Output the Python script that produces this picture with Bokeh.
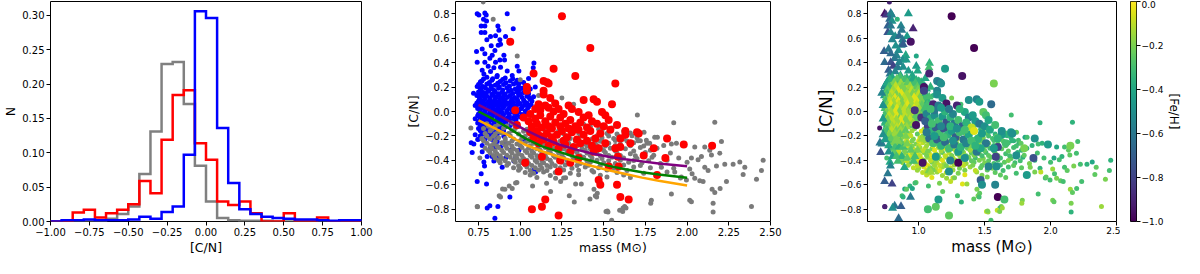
import numpy as np
from bokeh.plotting import figure
from bokeh.layouts import row
from bokeh.models import ColumnDataSource, CustomJSTickFormatter, FixedTicker, LinearColorMapper
from bokeh.palettes import Viridis256
from bokeh.transform import linear_cmap
from bokeh.embed import file_html
from bokeh.resources import INLINE

# ---------------- data ----------------
cn_bin_edges = np.linspace(-1.0, 1.0, 29)
hist_gray = [0, 0, 0, 0, 0.001, 0.004, 0.011, 0.022, 0.069, 0.131, 0.229, 0.232, 0.171, 0.081,
             0.029, 0.005, 0.002, 0.001, 0.001, 0.001, 0, 0, 0, 0, 0, 0, 0, 0]
hist_red = [0, 0, 0.013, 0.017, 0.006, 0.012, 0.017, 0.025, 0.059, 0.041, 0.119, 0.184, 0.191, 0.114,
            0.090, 0.029, 0.024, 0.029, 0.012, 0, 0, 0.012, 0, 0, 0.006, 0, 0, 0]
hist_blue = [0, 0.002, 0.002, 0.003, 0.002, 0.002, 0.002, 0.003, 0.007, 0.004, 0.014, 0.022, 0.097, 0.306,
             0.296, 0.136, 0.056, 0.018, 0.011, 0.007, 0.005, 0.004, 0.003, 0.003, 0.002, 0.001, 0.002, 0.002]

track_mass = [0.75, 0.83, 0.93, 1.03, 1.13, 1.23, 1.33, 1.43, 1.53, 1.63, 1.73, 1.83, 2.00]
track_purple = [0.055, 0.0, -0.077, -0.150, -0.215, -0.268, -0.310, -0.343, -0.370, -0.390, -0.408, -0.425, -0.447]
track_green = [0.0, -0.056, -0.135, -0.220, -0.285, -0.328, -0.372, -0.405, -0.445, -0.472, -0.497, -0.515, -0.542]
track_orange = [-0.072, -0.125, -0.195, -0.272, -0.325, -0.370, -0.408, -0.446, -0.480, -0.511, -0.541, -0.566, -0.606]

# (mass, [C/N], [Fe/H])
blue_stars = [
    (0.742, 0.800, -0.95), (0.752, 0.790, -0.85), (0.788, 0.805, -0.60), (0.796, 0.790, -0.55), (0.922, 0.800, -0.45),
    (0.780, 0.755, -0.65), (0.798, 0.740, -0.50), (0.766, 0.700, -0.70), (0.788, 0.700, -0.60), (0.866, 0.700, -0.55),
    (0.958, 0.677, -0.90), (0.766, 0.647, -0.75), (0.788, 0.647, -0.55), (0.872, 0.665, -0.60), (0.822, 0.614, -0.50),
    (0.852, 0.619, -0.65), (0.912, 0.614, -0.45), (0.800, 0.588, -0.55), (0.878, 0.588, -0.60), (0.826, 0.537, -0.50),
    (0.868, 0.542, -0.55), (0.882, 0.550, -0.70), (0.738, 0.491, -0.70), (0.772, 0.511, -0.60), (0.848, 0.499, -0.50),
    (0.788, 0.473, -0.65), (0.832, 0.460, -0.55), (0.902, 0.460, -0.40), (0.818, 0.435, -0.60), (0.878, 0.422, -0.50),
    (0.906, 0.422, -0.45), (0.742, 0.402, -0.65), (0.788, 0.402, -0.75), (0.852, 0.402, -0.55), (0.808, 0.371, -0.80),
    (0.842, 0.358, -0.60), (0.882, 0.363, -0.50), (0.982, 0.371, -0.45), (1.082, 0.396, -0.35), (0.772, 0.338, -0.70),
    (0.822, 0.327, -0.55), (0.922, 0.332, -0.45), (0.992, 0.332, -0.40), (1.078, 0.358, -0.30), (0.782, 0.307, -0.60),
    (0.862, 0.294, -0.45), (0.952, 0.294, -0.40), (0.742, 0.205, -0.55), (0.762, 0.243, -0.65), (0.982, 0.256, -0.35),
    (0.992, 0.230, -0.30),
    (0.80, 0.280, -0.40), (0.86, 0.285, -0.30), (0.91, 0.275, -0.35),
    (0.77, 0.250, -0.45), (0.83, 0.255, -0.30), (0.88, 0.245, -0.25), (0.94, 0.250, -0.30), (1.00, 0.245, -0.35),
    (0.75, 0.220, -0.50), (0.80, 0.225, -0.20), (0.85, 0.215, -0.25), (0.90, 0.220, -0.15), (0.96, 0.225, -0.30), (1.03, 0.215, -0.35),
    (0.76, 0.190, -0.40), (0.79, 0.195, -0.25), (0.83, 0.185, -0.15), (0.87, 0.190, -0.20), (0.92, 0.195, -0.10), (0.97, 0.185, -0.25),
    (1.01, 0.190, -0.30), (1.06, 0.185, -0.40),
    (0.75, 0.160, -0.35), (0.78, 0.155, -0.20), (0.81, 0.165, -0.10), (0.85, 0.160, -0.25), (0.89, 0.155, -0.15), (0.93, 0.165, -0.20),
    (0.98, 0.160, -0.10), (1.02, 0.155, -0.30),
    (0.74, 0.130, -0.45), (0.77, 0.135, -0.15), (0.80, 0.125, -0.20), (0.84, 0.130, -0.10), (0.87, 0.135, -0.25), (0.90, 0.125, -0.15),
    (0.94, 0.130, -0.05), (0.99, 0.135, -0.20), (1.04, 0.125, -0.30),
    (0.76, 0.100, -0.30), (0.79, 0.105, -0.10), (0.82, 0.095, -0.20), (0.85, 0.100, -0.15), (0.88, 0.105, -0.05), (0.91, 0.095, -0.20),
    (0.95, 0.100, -0.10), (0.98, 0.105, -0.25), (1.02, 0.095, -0.15), (1.06, 0.100, -0.35),
    (0.74, 0.070, -0.35), (0.77, 0.075, -0.20), (0.80, 0.065, -0.10), (0.83, 0.070, -0.25), (0.86, 0.075, -0.15), (0.89, 0.065, -0.05),
    (0.93, 0.070, -0.20), (0.96, 0.075, -0.10), (1.00, 0.065, -0.15), (1.04, 0.070, -0.30),
    (0.75, 0.040, -0.25), (0.78, 0.045, -0.15), (0.81, 0.035, -0.05), (0.84, 0.040, -0.20), (0.87, 0.045, -0.10), (0.90, 0.035, -0.25),
    (0.94, 0.040, -0.15), (0.97, 0.045, -0.05), (1.01, 0.035, -0.20), (1.05, 0.040, -0.25),
    (0.76, 0.010, -0.30), (0.79, 0.015, -0.10), (0.82, 0.005, -0.20), (0.85, 0.010, -0.05), (0.88, 0.015, -0.15), (0.92, 0.005, -0.10),
    (0.95, 0.010, -0.25), (0.99, 0.015, -0.15), (1.03, 0.005, -0.20),
    (0.75, -0.020, -0.35), (0.78, -0.015, -0.15), (0.81, -0.025, -0.10), (0.84, -0.020, -0.20), (0.87, -0.015, -0.05), (0.90, -0.025, -0.15),
    (0.93, -0.020, -0.10), (0.97, -0.015, -0.20), (1.01, -0.025, -0.25),
    (0.76, -0.050, -0.25), (0.79, -0.045, -0.20), (0.82, -0.055, -0.05), (0.86, -0.050, -0.15), (0.89, -0.045, -0.10), (0.92, -0.055, -0.20),
    (0.96, -0.050, -0.15), (1.00, -0.045, -0.30),
    (0.75, -0.080, -0.40), (0.78, -0.075, -0.15), (0.81, -0.085, -0.20), (0.84, -0.080, -0.10), (0.88, -0.075, -0.05), (0.91, -0.085, -0.20),
    (0.95, -0.080, -0.15),
    (0.76, -0.110, -0.30), (0.79, -0.105, -0.10), (0.83, -0.115, -0.15), (0.86, -0.110, -0.20), (0.90, -0.105, -0.10), (0.94, -0.115, -0.25),
    (0.75, -0.140, -0.35), (0.78, -0.135, -0.20), (0.82, -0.145, -0.10), (0.85, -0.140, -0.15), (0.89, -0.135, -0.20),
    (0.77, -0.170, -0.25), (0.80, -0.165, -0.15), (0.84, -0.175, -0.20), (0.88, -0.170, -0.10),
    (0.76, -0.200, -0.30), (0.81, -0.195, -0.20), (0.86, -0.205, -0.15),
    (0.78, 0.265, -0.35), (0.835, 0.268, -0.25), (0.895, 0.262, -0.30), (0.955, 0.267, -0.40),
    (0.76, 0.235, -0.40), (0.815, 0.238, -0.20), (0.865, 0.232, -0.15), (0.915, 0.236, -0.25), (0.975, 0.233, -0.30), (1.02, 0.237, -0.35),
    (0.775, 0.205, -0.30), (0.825, 0.208, -0.10), (0.875, 0.202, -0.20), (0.935, 0.206, -0.15), (0.99, 0.203, -0.25), (1.045, 0.207, -0.40),
    (0.765, 0.175, -0.25), (0.805, 0.178, -0.15), (0.845, 0.172, -0.05), (0.895, 0.176, -0.20), (0.945, 0.173, -0.10), (0.995, 0.177, -0.20),
    (1.04, 0.174, -0.30),
    (0.76, 0.145, -0.30), (0.795, 0.148, -0.10), (0.83, 0.142, -0.20), (0.87, 0.146, -0.05), (0.91, 0.143, -0.15), (0.955, 0.147, -0.20),
    (1.00, 0.144, -0.10), (1.05, 0.146, -0.35),
    (0.755, 0.115, -0.25), (0.785, 0.118, -0.15), (0.82, 0.112, -0.05), (0.855, 0.116, -0.20), (0.89, 0.113, -0.10), (0.925, 0.117, -0.15),
    (0.965, 0.114, -0.05), (1.01, 0.116, -0.20), (1.055, 0.113, -0.30),
    (0.75, 0.085, -0.30), (0.78, 0.088, -0.10), (0.81, 0.082, -0.15), (0.845, 0.086, -0.05), (0.875, 0.083, -0.20), (0.905, 0.087, -0.10),
    (0.945, 0.084, -0.15), (0.985, 0.088, -0.05), (1.025, 0.082, -0.20), (1.07, 0.085, -0.35),
    (0.76, 0.055, -0.20), (0.79, 0.058, -0.05), (0.82, 0.052, -0.15), (0.85, 0.056, -0.10), (0.88, 0.053, -0.20), (0.915, 0.057, -0.05),
    (0.95, 0.054, -0.15), (0.985, 0.058, -0.10), (1.025, 0.052, -0.25), (1.065, 0.055, -0.30),
    (0.745, 0.025, -0.30), (0.775, 0.028, -0.10), (0.805, 0.022, -0.20), (0.835, 0.026, -0.05), (0.865, 0.023, -0.15), (0.895, 0.027, -0.10),
    (0.93, 0.024, -0.20), (0.965, 0.028, -0.05), (1.005, 0.022, -0.15), (1.045, 0.026, -0.30),
    (0.76, -0.005, -0.20), (0.79, -0.002, -0.15), (0.825, -0.008, -0.05), (0.855, -0.004, -0.20), (0.89, -0.007, -0.10), (0.92, -0.003, -0.15),
    (0.955, -0.006, -0.05), (0.99, -0.002, -0.20), (1.035, -0.008, -0.30),
    (0.745, -0.035, -0.30), (0.775, -0.032, -0.10), (0.805, -0.038, -0.15), (0.835, -0.034, -0.05), (0.865, -0.037, -0.20), (0.895, -0.033, -0.10),
    (0.935, -0.036, -0.15), (0.98, -0.032, -0.25), (1.02, -0.038, -0.20),
    (0.765, -0.065, -0.20), (0.795, -0.062, -0.10), (0.83, -0.068, -0.15), (0.865, -0.064, -0.05), (0.90, -0.067, -0.20), (0.935, -0.063, -0.10),
    (0.975, -0.066, -0.25),
    (0.745, -0.095, -0.35), (0.775, -0.092, -0.20), (0.81, -0.098, -0.10), (0.845, -0.094, -0.15), (0.875, -0.097, -0.05), (0.915, -0.093, -0.20),
    (0.96, -0.096, -0.15),
    (0.765, -0.125, -0.25), (0.80, -0.122, -0.15), (0.835, -0.128, -0.10), (0.87, -0.124, -0.20), (0.91, -0.127, -0.15),
    (0.76, -0.155, -0.30), (0.795, -0.152, -0.10), (0.83, -0.158, -0.20), (0.865, -0.154, -0.15), (0.90, -0.157, -0.25),
    (0.78, -0.185, -0.20), (0.82, -0.182, -0.15), (0.86, -0.188, -0.25),
    (0.75, -0.225, -0.40), (0.79, -0.222, -0.25), (0.83, -0.228, -0.20),
    (1.08, 0.120, -0.30), (1.10, 0.050, -0.35), (1.07, -0.030, -0.30), (1.05, 0.270, -0.40), (1.09, 0.200, -0.35),
    (0.73, 0.050, -0.50), (0.73, -0.060, -0.45), (0.72, 0.150, -0.55),
    (0.722, -0.266, -0.55), (0.712, -0.335, -0.75), (0.772, -0.279, -0.40), (0.772, -0.330, -0.50), (0.822, -0.290, -0.30),
    (0.852, -0.290, -0.35), (0.882, -0.290, -0.30), (0.802, -0.368, -0.45), (0.832, -0.368, -0.30), (0.872, -0.368, -0.35),
    (0.912, -0.381, -0.25), (0.782, -0.414, -0.40), (0.842, -0.406, -0.30), (0.962, -0.406, -0.30), (0.786, -0.445, -0.55),
    (0.892, -0.457, -0.40), (1.078, -0.483, -0.20), (1.092, -0.496, -0.15), (0.766, -0.509, -0.60), (0.742, -0.572, -0.70),
    (0.798, -0.593, -0.80), (0.938, -0.700, -0.60), (0.818, -0.772, -0.60), (0.802, -0.790, -0.50), (0.866, -0.777, -0.70),
    (0.848, -0.874, -0.65), (0.862, -0.245, -0.25), (0.912, -0.266, -0.20), (0.942, -0.317, -0.25), (0.992, -0.317, -0.20),
    (1.022, -0.227, -0.15), (0.972, -0.368, -0.30), (0.842, -0.240, -0.20), (0.902, -0.202, -0.20), (0.706, -0.256, -0.60),
    (0.730, -0.190, -0.50), (0.745, -0.230, -0.45),
]

red_stars = [
    (1.25, 0.78, -1.00), (0.94, 0.57, -0.95), (1.42, 0.52, -1.00), (1.20, 0.35, -0.45), (1.33, 0.29, -0.95),
    (1.57, 0.23, -0.20), (1.08, 0.31, -0.90), (1.14, 0.25, -0.55), (1.16, 0.24, -0.60), (1.17, 0.23, -0.50),
    (1.04, 0.20, -0.95), (1.14, 0.17, -0.55), (1.14, 0.14, -0.50), (1.04, 0.17, -0.80), (1.18, 0.11, -0.45),
    (1.38, 0.095, -0.50), (1.44, 0.10, -0.55), (1.46, 0.08, -0.45), (1.21, 0.065, -0.95), (1.29, 0.05, -0.90),
    (1.55, 0.06, -0.65), (0.97, 0.01, -0.85), (1.11, 0.06, -0.90), (1.15, 0.05, -0.60), (1.02, -0.05, -0.85),
    (1.35, -0.005, -0.40), (1.38, -0.05, -0.55), (1.49, -0.005, -0.25), (1.51, -0.03, -0.30), (1.43, -0.08, -0.45),
    (1.46, -0.10, -0.60), (0.98, -0.11, -0.95),
    (1.70, -0.17, -0.45), (1.71, -0.18, -0.50), (1.63, -0.19, -0.45), (1.88, -0.22, -0.50), (1.80, -0.30, -0.20),
    (1.87, -0.38, -0.75), (1.98, -0.27, -0.45), (2.15, -0.28, -0.20), (1.74, -0.36, -0.50), (1.82, -0.52, -0.45),
    (1.60, -0.29, -0.80), (1.585, -0.37, -0.80), (1.59, -0.45, -0.50), (1.47, -0.56, -0.70), (1.48, -0.60, -0.50),
    (1.58, -0.60, -0.55), (1.60, -0.70, -1.00), (1.65, -0.72, -0.30), (1.07, -0.80, -0.30), (1.13, -0.78, -0.25),
    (1.15, -0.72, -0.45), (1.23, -0.85, -0.25), (1.03, -0.42, -0.95), (1.30, -0.42, -1.00), (1.23, -0.49, -0.50),
    (1.44, -0.33, -0.60), (1.30, -0.33, -0.45), (1.35, -0.38, -0.50), (1.53, -0.45, -0.55), (1.24, -0.40, -0.55),
    (1.13, -0.37, -0.45),
    (1.06, -0.02, -0.55), (1.09, -0.06, -0.35), (1.12, -0.03, -0.50), (1.15, -0.08, -0.30), (1.18, -0.04, -0.45),
    (1.21, -0.09, -0.75), (1.24, -0.05, -0.35), (1.27, -0.10, -0.60), (1.30, -0.07, -0.30), (1.33, -0.12, -0.70),
    (1.36, -0.09, -0.35), (1.40, -0.13, -0.10), (1.07, -0.12, -0.80), (1.10, -0.16, -0.35), (1.13, -0.13, -0.70),
    (1.16, -0.18, -0.30), (1.19, -0.14, -0.75), (1.22, -0.19, -0.35), (1.25, -0.16, -0.45), (1.28, -0.21, -0.70),
    (1.31, -0.17, -0.30), (1.34, -0.23, -0.60), (1.38, -0.19, -0.40), (1.42, -0.16, -0.05), (1.45, -0.22, -0.35),
    (1.48, -0.18, -0.45), (1.08, -0.22, -0.65), (1.11, -0.26, -0.30), (1.14, -0.23, -0.70), (1.17, -0.28, -0.35),
    (1.20, -0.25, -0.65), (1.23, -0.30, -0.30), (1.27, -0.27, -0.60), (1.32, -0.29, -0.35), (1.36, -0.26, -0.55),
    (1.40, -0.24, -0.30), (1.50, -0.12, -0.50), (1.54, -0.15, -0.40), (1.60, -0.22, -0.35), (1.57, -0.30, -0.45),
    (1.51, -0.26, -0.60), (1.66, -0.26, -0.30), (1.63, -0.16, -0.50), (1.47, -0.30, -0.40), (1.12, 0.01, -0.60),
    (1.20, 0.00, -0.35), (1.26, -0.02, -0.55),
    (1.09, 0.02, -0.30), (1.17, 0.03, -0.45), (1.23, 0.02, -0.60), (1.31, 0.02, -0.35), (1.41, -0.03, -0.45),
    (1.05, -0.08, -0.70), (1.10, -0.10, -0.30), (1.17, -0.12, -0.55), (1.24, -0.12, -0.35), (1.29, -0.14, -0.50),
    (1.35, -0.15, -0.30), (1.12, -0.20, -0.45), (1.19, -0.21, -0.30), (1.26, -0.24, -0.50), (1.43, -0.28, -0.35),
    (1.06, -0.17, -0.60), (1.53, -0.07, -0.40), (1.58, -0.11, -0.30),
]

gray_stars = [
    (0.80, -0.100, -0.20), (0.87, -0.105, -0.10), (0.95, -0.095, -0.15), (1.21, -0.100, -0.25), (1.38, -0.105, -0.30), (1.45, -0.095, -0.20),
    (0.78, -0.140, -0.25), (0.83, -0.145, -0.10), (0.90, -0.135, -0.05), (0.97, -0.140, -0.20), (1.04, -0.145, -0.15), (1.12, -0.135, -0.30),
    (1.30, -0.140, -0.25), (1.47, -0.145, -0.35), (1.55, -0.135, -0.30),
    (0.79, -0.180, -0.15), (0.85, -0.185, -0.20), (0.89, -0.175, -0.05), (0.93, -0.180, -0.10), (0.99, -0.185, -0.25), (1.05, -0.175, -0.15),
    (1.10, -0.180, -0.20), (1.26, -0.185, -0.10), (1.35, -0.175, -0.30), (1.52, -0.180, -0.25), (1.58, -0.185, -0.35), (1.66, -0.175, -0.30),
    (0.77, -0.220, -0.30), (0.82, -0.225, -0.10), (0.87, -0.215, -0.15), (0.91, -0.220, -0.05), (0.96, -0.225, -0.20), (1.01, -0.215, -0.10),
    (1.06, -0.220, -0.25), (1.12, -0.225, -0.15), (1.18, -0.215, -0.20), (1.30, -0.220, -0.10), (1.43, -0.225, -0.25), (1.49, -0.215, -0.20),
    (1.56, -0.220, -0.30), (1.62, -0.225, -0.25), (1.70, -0.215, -0.35),
    (0.80, -0.260, -0.20), (0.84, -0.265, -0.10), (0.89, -0.255, -0.15), (0.93, -0.260, -0.05), (0.98, -0.265, -0.20), (1.03, -0.255, -0.10),
    (1.08, -0.260, -0.15), (1.14, -0.265, -0.25), (1.21, -0.255, -0.10), (1.29, -0.260, -0.20), (1.38, -0.265, -0.15), (1.45, -0.255, -0.30),
    (1.53, -0.260, -0.20), (1.60, -0.265, -0.25), (1.68, -0.255, -0.30), (1.76, -0.260, -0.35),
    (0.79, -0.300, -0.30), (0.83, -0.305, -0.15), (0.87, -0.295, -0.10), (0.92, -0.300, -0.20), (0.96, -0.305, -0.05), (1.01, -0.295, -0.15),
    (1.05, -0.300, -0.10), (1.10, -0.305, -0.20), (1.15, -0.295, -0.15), (1.20, -0.300, -0.05), (1.26, -0.305, -0.20), (1.31, -0.295, -0.10),
    (1.37, -0.300, -0.25), (1.42, -0.305, -0.15), (1.48, -0.295, -0.20), (1.54, -0.300, -0.30), (1.63, -0.305, -0.25), (1.72, -0.295, -0.30),
    (1.82, -0.300, -0.35),
    (0.82, -0.340, -0.25), (0.86, -0.345, -0.10), (0.90, -0.335, -0.20), (0.95, -0.340, -0.15), (0.99, -0.345, -0.05), (1.04, -0.335, -0.20),
    (1.08, -0.340, -0.10), (1.13, -0.345, -0.15), (1.18, -0.335, -0.25), (1.23, -0.340, -0.10), (1.29, -0.345, -0.20), (1.34, -0.335, -0.15),
    (1.40, -0.340, -0.25), (1.46, -0.345, -0.20), (1.51, -0.335, -0.30), (1.58, -0.340, -0.25), (1.66, -0.345, -0.30), (1.75, -0.335, -0.35),
    (1.90, -0.340, -0.30),
    (0.85, -0.380, -0.20), (0.89, -0.385, -0.15), (0.94, -0.375, -0.10), (0.98, -0.380, -0.20), (1.02, -0.385, -0.05), (1.07, -0.375, -0.15),
    (1.11, -0.380, -0.10), (1.16, -0.385, -0.20), (1.21, -0.375, -0.15), (1.26, -0.380, -0.10), (1.32, -0.385, -0.25), (1.38, -0.375, -0.20),
    (1.43, -0.380, -0.30), (1.49, -0.385, -0.20), (1.55, -0.375, -0.25), (1.62, -0.380, -0.30), (1.70, -0.385, -0.25), (1.79, -0.375, -0.35),
    (1.95, -0.380, -0.30),
    (0.88, -0.420, -0.15), (0.93, -0.425, -0.20), (0.97, -0.415, -0.10), (1.01, -0.420, -0.15), (1.05, -0.425, -0.05), (1.10, -0.415, -0.20),
    (1.14, -0.420, -0.10), (1.19, -0.425, -0.15), (1.25, -0.415, -0.10), (1.30, -0.420, -0.20), (1.36, -0.425, -0.15), (1.42, -0.415, -0.25),
    (1.50, -0.420, -0.20), (1.57, -0.425, -0.30), (1.65, -0.415, -0.25), (1.73, -0.420, -0.30), (1.84, -0.425, -0.20), (2.00, -0.415, -0.30),
    (0.96, -0.460, -0.10), (1.00, -0.465, -0.15), (1.04, -0.455, -0.05), (1.09, -0.460, -0.20), (1.13, -0.465, -0.10), (1.18, -0.455, -0.15),
    (1.24, -0.460, -0.10), (1.31, -0.465, -0.20), (1.39, -0.455, -0.15), (1.47, -0.460, -0.25), (1.56, -0.465, -0.20), (1.68, -0.455, -0.30),
    (1.78, -0.460, -0.25), (1.92, -0.465, -0.35),
    (1.03, -0.500, -0.10), (1.08, -0.505, -0.05), (1.14, -0.495, -0.15), (1.21, -0.500, -0.10), (1.30, -0.505, -0.20), (1.44, -0.495, -0.15),
    (1.58, -0.500, -0.25), (1.74, -0.505, -0.30), (1.88, -0.495, -0.20),
    (1.10, -0.540, -0.05), (1.26, -0.545, -0.10), (1.52, -0.535, -0.20), (1.66, -0.540, -0.25), (1.96, -0.545, -0.30),
    (0.81, -0.120, -0.15), (0.85, -0.123, -0.20), (0.92, -0.118, -0.10), (0.99, -0.122, -0.25), (1.07, -0.119, -0.15), (1.16, -0.121, -0.20),
    (1.34, -0.118, -0.30), (1.42, -0.123, -0.25), (1.51, -0.120, -0.30),
    (0.82, -0.160, -0.20), (0.87, -0.163, -0.10), (0.95, -0.158, -0.15), (1.02, -0.161, -0.05), (1.08, -0.159, -0.20), (1.15, -0.162, -0.15),
    (1.23, -0.158, -0.25), (1.32, -0.161, -0.20), (1.41, -0.163, -0.30), (1.49, -0.158, -0.25), (1.62, -0.162, -0.35),
    (0.80, -0.200, -0.25), (0.84, -0.203, -0.15), (0.94, -0.198, -0.10), (1.03, -0.202, -0.20), (1.08, -0.199, -0.10), (1.15, -0.201, -0.15),
    (1.21, -0.203, -0.05), (1.27, -0.198, -0.20), (1.36, -0.202, -0.15), (1.46, -0.199, -0.25), (1.53, -0.201, -0.30), (1.59, -0.203, -0.25),
    (1.67, -0.198, -0.35),
    (0.78, -0.240, -0.30), (0.85, -0.243, -0.15), (0.91, -0.238, -0.10), (0.95, -0.242, -0.20), (1.00, -0.239, -0.05), (1.05, -0.241, -0.15),
    (1.10, -0.243, -0.10), (1.16, -0.238, -0.20), (1.24, -0.242, -0.15), (1.33, -0.239, -0.25), (1.41, -0.241, -0.20), (1.48, -0.243, -0.25),
    (1.57, -0.238, -0.30), (1.64, -0.242, -0.25), (1.72, -0.239, -0.35),
    (0.82, -0.280, -0.20), (0.86, -0.283, -0.15), (0.91, -0.278, -0.05), (0.95, -0.282, -0.20), (1.00, -0.279, -0.10), (1.06, -0.281, -0.15),
    (1.11, -0.283, -0.05), (1.17, -0.278, -0.20), (1.23, -0.282, -0.10), (1.28, -0.279, -0.15), (1.34, -0.281, -0.25), (1.40, -0.283, -0.20),
    (1.46, -0.278, -0.15), (1.51, -0.282, -0.25), (1.57, -0.279, -0.30), (1.66, -0.281, -0.25), (1.74, -0.283, -0.30), (1.86, -0.278, -0.35),
    (0.81, -0.320, -0.25), (0.85, -0.323, -0.10), (0.89, -0.318, -0.20), (0.94, -0.322, -0.05), (0.98, -0.319, -0.15), (1.03, -0.321, -0.10),
    (1.07, -0.323, -0.20), (1.12, -0.318, -0.05), (1.17, -0.322, -0.15), (1.22, -0.319, -0.20), (1.28, -0.321, -0.10), (1.33, -0.323, -0.25),
    (1.39, -0.318, -0.15), (1.45, -0.322, -0.20), (1.50, -0.319, -0.25), (1.57, -0.321, -0.30), (1.68, -0.323, -0.25), (1.78, -0.318, -0.35),
    (0.84, -0.360, -0.15), (0.88, -0.363, -0.20), (0.92, -0.358, -0.05), (0.97, -0.362, -0.15), (1.01, -0.359, -0.10), (1.06, -0.361, -0.20),
    (1.10, -0.363, -0.05), (1.15, -0.358, -0.15), (1.20, -0.362, -0.10), (1.25, -0.359, -0.20), (1.31, -0.361, -0.15), (1.36, -0.363, -0.25),
    (1.42, -0.358, -0.20), (1.48, -0.362, -0.30), (1.53, -0.359, -0.25), (1.60, -0.361, -0.20), (1.69, -0.363, -0.30), (1.80, -0.358, -0.25),
    (0.87, -0.400, -0.20), (0.91, -0.403, -0.10), (0.96, -0.398, -0.15), (1.00, -0.402, -0.05), (1.04, -0.399, -0.20), (1.09, -0.401, -0.10),
    (1.13, -0.403, -0.15), (1.18, -0.398, -0.05), (1.23, -0.402, -0.20), (1.28, -0.399, -0.15), (1.34, -0.401, -0.10), (1.40, -0.403, -0.25),
    (1.46, -0.398, -0.20), (1.53, -0.402, -0.25), (1.60, -0.399, -0.30), (1.68, -0.401, -0.20), (1.77, -0.403, -0.30), (1.88, -0.398, -0.35),
    (0.92, -0.440, -0.15), (0.99, -0.443, -0.10), (1.03, -0.438, -0.20), (1.07, -0.442, -0.05), (1.12, -0.439, -0.15), (1.16, -0.441, -0.10),
    (1.21, -0.443, -0.20), (1.27, -0.438, -0.15), (1.34, -0.442, -0.10), (1.41, -0.439, -0.20), (1.48, -0.441, -0.25), (1.54, -0.443, -0.20),
    (1.62, -0.438, -0.30), (1.72, -0.442, -0.25),
    (0.99, -0.480, -0.15), (1.06, -0.483, -0.10), (1.11, -0.478, -0.20), (1.16, -0.482, -0.05), (1.26, -0.479, -0.15), (1.35, -0.481, -0.20),
    (1.43, -0.483, -0.10), (1.52, -0.478, -0.25), (1.64, -0.482, -0.30),
    (1.06, -0.520, -0.10), (1.18, -0.523, -0.15), (1.35, -0.518, -0.05), (1.48, -0.522, -0.20), (1.62, -0.519, -0.25),
    (1.702, -0.028, -0.30), (1.920, -0.092, -0.35), (2.166, -0.087, -0.35), (1.806, -0.210, -0.40), (1.822, -0.210, -0.30),
    (1.742, -0.169, -0.25), (1.706, -0.240, -0.35), (1.756, -0.235, -0.30), (1.776, -0.260, -0.25), (1.906, -0.266, -0.30),
    (1.936, -0.260, -0.35), (2.046, -0.291, -0.40), (2.106, -0.291, -0.30), (2.136, -0.317, -0.25), (2.206, -0.245, -0.30),
    (2.086, -0.368, -0.35), (2.146, -0.355, -0.25), (2.196, -0.342, -0.30), (2.026, -0.381, -0.40), (2.066, -0.394, -0.30),
    (2.276, -0.432, -0.35), (2.316, -0.414, -0.40), (2.346, -0.457, -0.25), (2.226, -0.432, -0.30), (2.176, -0.445, -0.20),
    (2.106, -0.457, -0.30), (2.126, -0.483, -0.25), (2.016, -0.470, -0.15), (2.030, -0.509, -0.30), (2.046, -0.547, -0.20),
    (2.076, -0.567, -0.25), (2.096, -0.572, -0.30), (2.236, -0.572, -0.30), (2.336, -0.516, -0.25), (2.446, -0.483, -0.30),
    (2.456, -0.399, -0.35), (2.416, -0.555, -0.20), (2.150, -0.637, -0.15), (2.166, -0.662, -0.25), (2.198, -0.629, -0.30),
    (2.156, -0.751, -0.20), (2.156, -0.823, -0.35), (2.386, -0.777, -0.15), (2.016, -0.726, -0.20), (2.026, -0.739, -0.25),
    (1.906, -0.675, -0.30), (1.786, -0.726, -0.20), (1.782, -0.751, -0.15), (1.626, -0.777, -0.20), (1.616, -0.790, -0.30),
    (1.596, -0.808, -0.10), (1.526, -0.823, -0.15), (1.846, -0.457, -0.20), (1.926, -0.496, -0.10), (1.966, -0.535, -0.25),
    (1.996, -0.560, -0.30),
    (0.704, -0.135, -0.95), (0.744, -0.780, -0.95), (0.874, -0.690, -0.30), (0.934, -0.610, -0.35), (0.980, -0.580, -0.25),
    (0.894, -0.634, -0.40), (0.778, 0.895, -0.90), (0.838, 0.754, -0.35), (0.982, 0.455, -0.40), (1.418, -0.716, -0.25),
    (1.450, -0.690, -0.20), (1.548, -0.890, -0.30), (1.514, -0.818, -0.10), (1.614, -0.818, -0.20), (1.634, -0.790, -0.15),
    (1.324, -0.740, -0.35), (1.294, -0.690, -0.30), (1.158, -0.588, -0.20), (1.074, -0.610, -0.30), (0.758, -0.381, -0.30),
    (0.742, -0.777, -0.90), (0.882, -0.700, -0.35), (0.908, -0.636, -0.25), (0.952, -0.629, -0.40), (0.972, -0.585, -0.30),
    (1.182, -0.654, -0.25), (1.212, -0.547, -0.15), (1.242, -0.572, -0.10), (1.272, -0.542, -0.20), (1.332, -0.593, -0.05),
    (1.366, -0.593, -0.15), (1.442, -0.636, -0.20), (1.462, -0.669, -0.25), (1.458, -0.700, -0.30), (1.522, -0.815, -0.20),
    (1.000, 0.260, -0.30), (1.110, 0.130, -0.35), (1.200, 0.080, -0.30), (1.250, 0.110, -0.20), (1.320, 0.060, -0.30),
]

mass_ticks_mid = [0.75, 1.00, 1.25, 1.50, 1.75, 2.00, 2.25, 2.50]
mass_ticks_right = [1.0, 1.5, 2.0, 2.5]
cn_ticks = [-0.8, -0.6, -0.4, -0.2, 0.0, 0.2, 0.4, 0.6, 0.8]
hist_x_ticks = [-1.0, -0.75, -0.5, -0.25, 0.0, 0.25, 0.5, 0.75, 1.0]
hist_y_ticks = [0.0, 0.05, 0.10, 0.15, 0.20, 0.25, 0.30]
feh_ticks = [-1.0, -0.8, -0.6, -0.4, -0.2, 0.0]

# ---------------- helpers ----------------
FONT = "DejaVu Sans"
H = 258
TOP = 1
BOTTOM = 37


def fmt(d):
    return CustomJSTickFormatter(code=(
        "var t = Math.abs(tick) < 1e-9 ? 0 : tick;"
        "return t.toFixed(%d).replace('-', '\u2212');" % d))


def style(p, tick_px, label_px):
    p.outline_line_color = "black"
    p.outline_line_width = 1
    p.grid.visible = False
    p.background_fill_color = "white"
    p.border_fill_color = "white"
    for ax in p.axis:
        ax.axis_line_color = None
        ax.major_tick_in = 0
        ax.major_tick_out = 4
        ax.major_tick_line_color = "black"
        ax.minor_tick_line_color = None
        ax.major_label_text_font = FONT
        ax.major_label_text_font_size = f"{tick_px}px"
        ax.major_label_text_color = "black"
        ax.axis_label_text_font = FONT
        ax.axis_label_text_font_size = f"{label_px}px"
        ax.axis_label_text_font_style = "normal"
        ax.axis_label_text_color = "black"
        ax.major_label_standoff = 2
        ax.axis_label_standoff = 1


def step_xy(edges, vals):
    xs, ys = [edges[0]], [0.0]
    for i, v in enumerate(vals):
        xs += [edges[i], edges[i + 1]]
        ys += [v, v]
    xs.append(edges[-1])
    ys.append(0.0)
    return xs, ys


def src(stars):
    m, c, f = zip(*stars)
    return ColumnDataSource(dict(mass=list(m), cn=list(c), feh=list(f)))


# ---------------- panel 1: histogram ----------------
p1 = figure(width=402, height=H, x_range=(-1, 1), y_range=(0, 0.32),
            output_backend="svg", toolbar_location=None,
            min_border_left=46, min_border_right=41, min_border_top=TOP, min_border_bottom=BOTTOM)
for vals, col in ((hist_gray, "#808080"), (hist_red, "red"), (hist_blue, "blue")):
    xs, ys = step_xy(list(cn_bin_edges), vals)
    p1.line(xs, ys, line_color=col, line_width=2.5, line_join="miter")
p1.xaxis.ticker = FixedTicker(ticks=hist_x_ticks)
p1.yaxis.ticker = FixedTicker(ticks=hist_y_ticks)
p1.xaxis.formatter = fmt(2)
p1.yaxis.formatter = fmt(2)
p1.xaxis.axis_label = "[C/N]"
p1.yaxis.axis_label = "N"
style(p1, 10, 12.5)

# ---------------- panel 2: scatter ----------------
sb, sr, sg = src(blue_stars), src(red_stars), src(gray_stars)
p2 = figure(width=410, height=H, x_range=(0.612, 2.5), y_range=(-0.9, 0.9),
            output_backend="svg", toolbar_location=None,
            min_border_left=53, min_border_right=42, min_border_top=TOP, min_border_bottom=BOTTOM)
p2.scatter("mass", "cn", source=sb, size=5, fill_color="blue", line_color=None)
p2.scatter("mass", "cn", source=sg, size=5, fill_color="#7a7a7a", line_color=None)
p2.scatter("mass", "cn", source=sr, size=8, fill_color="red", line_color=None)
p2.line(track_mass, track_purple, line_color="purple", line_width=2.5)
p2.line(track_mass, track_green, line_color="green", line_width=2.5)
p2.line(track_mass, track_orange, line_color="orange", line_width=2.5)
p2.xaxis.ticker = FixedTicker(ticks=mass_ticks_mid)
p2.yaxis.ticker = FixedTicker(ticks=cn_ticks)
p2.xaxis.formatter = fmt(2)
p2.yaxis.formatter = fmt(1)
p2.xaxis.axis_label = "mass (M\u2299)"
p2.yaxis.axis_label = "[C/N]"
style(p2, 10, 12.5)

# ---------------- panel 3: scatter coloured by [Fe/H] ----------------
cmap = linear_cmap("feh", Viridis256, -1.0, 0.0)
p3 = figure(width=308, height=H, x_range=(0.612, 2.5), y_range=(-0.9, 0.9),
            output_backend="svg", toolbar_location=None,
            min_border_left=54, min_border_right=4, min_border_top=TOP, min_border_bottom=BOTTOM)
p3.scatter("mass", "cn", source=sg, size=5, fill_color=cmap, line_color=None)
p3.scatter("mass", "cn", source=sb, size=9, marker="triangle", fill_color=cmap, line_color=None)
p3.scatter("mass", "cn", source=sr, size=8, fill_color=cmap, line_color=None)
p3.xaxis.ticker = FixedTicker(ticks=mass_ticks_right)
p3.yaxis.ticker = FixedTicker(ticks=cn_ticks)
p3.xaxis.formatter = fmt(1)
p3.yaxis.formatter = fmt(1)
p3.xaxis.axis_label = "mass (M\u2299)"
p3.yaxis.axis_label = "[C/N]"
style(p3, 9, 15)
p3.xaxis.major_label_standoff = 1
p3.yaxis.axis_label_text_font_size = "17px"

# ---------------- colour bar ----------------
p4 = figure(width=64, height=H, x_range=(0, 1), y_range=(-1, 0),
            x_axis_location=None, y_axis_location="right",
            output_backend="svg", toolbar_location=None,
            min_border_left=10, min_border_right=44, min_border_top=TOP, min_border_bottom=BOTTOM)
mapper = LinearColorMapper(palette=Viridis256, low=-1.0, high=0.0)
gradient = np.linspace(-1.0, 0.0, 256).reshape(-1, 1)
p4.image(image=[gradient], x=0, y=-1, dw=1, dh=1, color_mapper=mapper)
p4.yaxis.ticker = FixedTicker(ticks=feh_ticks)
p4.yaxis.formatter = fmt(1)
p4.yaxis.axis_label = "[Fe/H]"
style(p4, 9, 12)
p4.yaxis.major_label_standoff = 1

layout = row(p1, p2, p3, p4, spacing=0)
open("out.html", "w").write(file_html(layout, INLINE))
